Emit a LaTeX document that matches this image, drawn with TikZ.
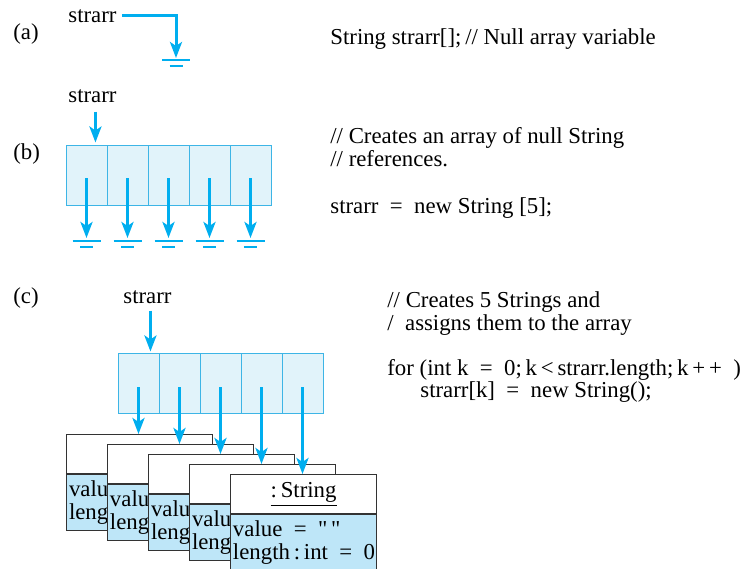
\documentclass[tikz,border=0pt]{standalone}
\usepackage{fontspec}
\setmainfont{Liberation Serif}[Ligatures=TeXOff]
\usetikzlibrary{arrows.meta,positioning}
\definecolor{refblue}{HTML}{00AEEF}
\definecolor{cellfill}{HTML}{E1F3FA}
\definecolor{cellline}{HTML}{3DB5E6}
\definecolor{objfill}{HTML}{BEE6F8}
\definecolor{objline}{HTML}{333333}
\tikzset{
    ground/.pic={
        \draw[refblue, line width=0.7pt] (-14,0) -- (14,0);
        \draw[refblue, line width=0.7pt] (-6.5,6) -- (6.5,6);
    },
}

\begin{document}
\begin{tikzpicture}[x=0.5pt, y=-0.5pt,
    font=\fontsize{11.4}{11.5}\selectfont,
    ptr/.style={draw=refblue, line width=1.5pt, -{Stealth[length=8pt, width=6pt, inset=2pt]}},
    cell/.style={draw=cellline, fill=cellfill, line width=0.5pt, minimum width=20.5pt, minimum height=30pt, inner sep=0pt},
    lbl/.style={inner sep=0pt, anchor=base west},
    tag/.style={inner sep=0pt, anchor=west},
    objhead/.style={draw=objline, fill=white, line width=0.6pt, minimum width=73pt, minimum height=19.5pt, inner sep=0pt},
    objbody/.style={draw=objline, fill=objfill, line width=0.6pt, text width=70.6pt, minimum height=28pt, inner xsep=1.2pt, inner ysep=0pt, align=left}]
    \useasboundingbox (0,0) rectangle (752,569);

    % (a) null array variable
    \node[tag] (la) at (13,34) {(a)};
    \node[lbl] (sa) at (68,22) {strarr};
    \coordinate (ga) at (176,60);
    \draw[ptr, line join=miter, shorten >=1pt] ([xshift=2.5pt]sa.east) -| (ga);
    \pic at (ga) {ground};
    \node[lbl] (ca) at (330,44) {String strarr[];\,// Null array variable};

    % (b) array of null references
    \node[tag] (lb) at (13,154) {(b)};
    \node[lbl] (sb) at (68,102) {strarr};
    \foreach \i in {1,...,5} {
        \node[cell] (b\i) at ({45.5+41*\i},175) {};
        \coordinate (g\i) at ({45.5+41*\i},241);
        \draw[ptr, shorten >=1.5pt] ([yshift=-1.5pt]b\i.center) -- (g\i);
        \pic at (g\i) {ground};
    }
    \draw[ptr, shorten <=4.5pt, shorten >=1pt] ([xshift=1.5pt]sb.south) -- ([xshift=1.5pt]sb.south |- b1.north);
    \node[lbl] (cb1) at (330,143) {// Creates an array of null String};
    \node[lbl] (cb2) at (330,166) {// references.};
    \node[lbl] (cb3) at (330,213) {strarr\enspace=\enspace new String [5];};

    % (c) five String objects
    \node[tag] (lc) at (13,298) {(c)};
    \node[lbl] (sc) at (123,303) {strarr};
    \foreach \i in {1,...,5} {
        \node[cell] (c\i) at ({97.5+41*\i},383) {};
    }
    \draw[ptr, shorten <=3.5pt, shorten >=0.5pt] ([xshift=1.5pt]sc.south) -- ([xshift=1.5pt]sc.south |- c1.north);
    % objects 1-4 are mostly hidden behind the next one
    \foreach \i in {1,...,4} {
        \node[objhead, anchor=north west] (h\i) at ({25+41*\i},{424+10*\i}) {};
        \node[objbody, anchor=north] (v\i) at (h\i.south) {valu\\leng};
    }
    \node[objhead, anchor=north west] (h5) at (230,474) {\underline{:\,String}};
    \node[objbody, anchor=north] (v5) at (h5.south) {value\enspace=\enspace"\,"\\length\,:\,int\enspace=\enspace0};
    \foreach \i in {1,...,5} {
        \draw[ptr] ([yshift=-2pt]c\i.center) -- (c\i |- h\i.north);
    }
    \node[lbl] (cc1) at (387,307) {// Creates 5 Strings and};
    \node[lbl] (cc2) at (387,330) {/\ \ assigns them to the array};
    \node[lbl] (cc3) at (387,375) {for (int k\enspace=\enspace0;\,k\,<\,strarr.length;\,k\,+\,+\enspace)};
    \node[lbl] (cc4) at (420,397) {strarr[k]\enspace=\enspace new String();};
\end{tikzpicture}
\end{document}
